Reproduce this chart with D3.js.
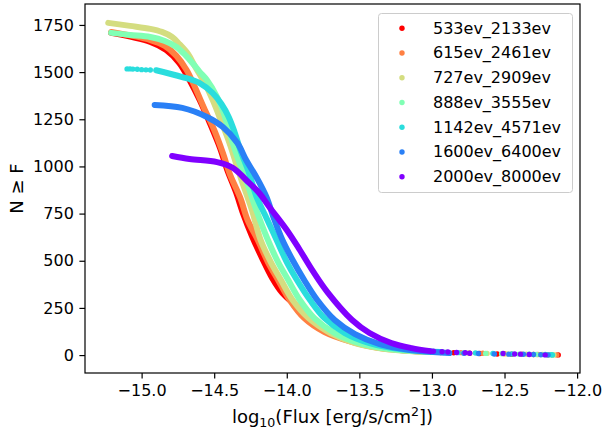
<!DOCTYPE html>
<html>
<head>
<meta charset="utf-8">
<script src="https://cdn.jsdelivr.net/npm/d3@7"></script>
<style>
body { margin: 0; background: #fff; }
svg { font-family: "DejaVu Sans", sans-serif; }
</style>
</head>
<body>
<svg id="chart" width="603" height="431"></svg>
<script>
// energy bands, drawn in this order (later ones on top)
var bands = ['533ev_2133ev', '615ev_2461ev', '727ev_2909ev', '888ev_3555ev',
             '1142ev_4571ev', '1600ev_6400ev', '2000ev_8000ev'];
var colors = ['#ff0000', '#ff8042', '#d4dd80', '#80ffb4', '#2adddd', '#2a80f6', '#8000ff'];

var xTicks = [-15.0, -14.5, -14.0, -13.5, -13.0, -12.5, -12.0];
var yTicks = [0, 250, 500, 750, 1000, 1250, 1500, 1750];

// [log10 flux, N >= F]  -- dense part of each curve
var curve533 = [[-15.21,1708],[-14.94,1660],[-14.83,1617],[-14.74,1548],[-14.67,1458],[-14.60,1352],
  [-14.53,1230],[-14.46,1098],[-14.41,981],[-14.35,864],[-14.30,748],[-14.24,631],[-14.17,514],
  [-14.10,408],[-14.03,329],[-13.94,265],[-13.82,186],[-13.70,122],[-13.57,85],[-13.43,53],
  [-13.22,27],[-13.01,16]];
var curve615 = [[-15.21,1713],[-14.94,1670],[-14.84,1639],[-14.76,1586],[-14.69,1511],[-14.63,1416],
  [-14.57,1310],[-14.50,1193],[-14.44,1071],[-14.39,955],[-14.32,833],[-14.27,716],[-14.20,610],
  [-14.13,493],[-14.06,398],[-13.98,292],[-13.88,196],[-13.74,122],[-13.57,74],[-13.36,37],[-13.08,21]];
var curve727 = [[-15.23,1761],[-15.08,1745],[-14.94,1729],[-14.86,1713],[-14.79,1686],[-14.74,1649],
  [-14.68,1596],[-14.63,1527],[-14.57,1448],[-14.51,1352],[-14.45,1236],[-14.39,1114],[-14.34,992],
  [-14.30,902],[-14.24,769],[-14.18,610],[-14.11,493],[-14.04,398],[-13.96,292],[-13.85,196],
  [-13.70,117],[-13.53,64],[-13.32,32],[-13.01,16]];
var curve888 = [[-15.21,1708],[-15.08,1697],[-14.94,1686],[-14.84,1665],[-14.76,1633],[-14.70,1591],
  [-14.65,1548],[-14.60,1501],[-14.55,1458],[-14.48,1368],[-14.43,1273],[-14.39,1167],[-14.34,1050],
  [-14.28,928],[-14.21,769],[-14.13,610],[-14.06,493],[-13.99,398],[-13.91,292],[-13.81,196],
  [-13.67,117],[-13.50,64],[-13.29,32],[-13.01,16]];
var curve1142 = [[-14.90,1510],[-14.72,1474],[-14.60,1442],[-14.51,1389],[-14.45,1331],[-14.40,1262],
  [-14.36,1183],[-14.32,1087],[-14.26,965],[-14.21,843],[-14.14,727],[-14.07,610],[-14.00,493],
  [-13.93,398],[-13.84,292],[-13.74,196],[-13.60,117],[-13.43,64],[-13.22,32],[-12.94,16]];
var curve1600 = [[-14.91,1326],[-14.72,1310],[-14.55,1262],[-14.44,1209],[-14.34,1124],[-14.28,1034],
  [-14.21,944],[-14.14,838],[-14.09,727],[-14.03,610],[-13.96,504],[-13.88,398],[-13.79,292],
  [-13.67,186],[-13.53,111],[-13.36,58],[-13.15,27],[-12.88,11]];
var curve2000 = [[-14.79,1055],[-14.67,1039],[-14.48,1023],[-14.37,992],[-14.28,928],[-14.19,859],
  [-14.12,785],[-14.00,663],[-13.91,557],[-13.82,445],[-13.72,334],[-13.55,186],[-13.43,117],
  [-13.28,64],[-13.14,37],[-13.01,21]];

// isolated points (bright tail, and the sparse start of 1142ev)
var tail533 = [[-12.94,14],[-12.85,12],[-12.74,10],[-12.67,8],[-12.55,6],[-12.45,4],[-12.30,3],[-12.20,2],[-12.13,1]];
var tail615 = [[-12.95,16],[-12.80,13],[-12.65,10],[-12.50,7],[-12.38,5],[-12.27,3],[-12.17,2],[-12.14,1]];
var tail727 = [[-12.90,14],[-12.75,11],[-12.62,9],[-12.48,6],[-12.35,4],[-12.24,3],[-12.17,2],[-12.16,1]];
var tail888 = [[-12.92,14],[-12.78,12],[-12.63,9],[-12.52,7],[-12.40,5],[-12.28,3],[-12.20,2],[-12.17,1]];
var tail1142 = [[-15.10,1517],[-15.08,1517],[-15.06,1516],[-15.03,1515],[-15.00,1513],[-14.97,1512],
  [-14.94,1511],[-12.82,13],[-12.70,11],[-12.58,8],[-12.45,6],[-12.33,4],[-12.22,3],[-12.18,2],[-12.17,1]];
var tail1600 = [[-12.78,10],[-12.68,8],[-12.57,6],[-12.47,5],[-12.37,4],[-12.30,3],[-12.25,2],[-12.20,1]];
var tail2000 = [[-12.99,20],[-12.93,18],[-12.89,16],[-12.83,14],[-12.77,12],[-12.74,10],[-12.51,8],
  [-12.43,6],[-12.39,5],[-12.33,3],[-12.22,1]];

var curves = [curve533, curve615, curve727, curve888, curve1142, curve1600, curve2000];
var tails = [tail533, tail615, tail727, tail888, tail1142, tail1600, tail2000];

var width = 603;
var height = 431;
var plotLeft = 85, plotRight = 580, plotTop = 4, plotBottom = 373;

var xScale = d3.scaleLinear().domain([-15.39, -11.98]).range([plotLeft, plotRight]);
var yScale = d3.scaleLinear().domain([-95, 1861]).range([plotBottom, plotTop]);

var svg = d3.select('#chart');

var line = d3.line()
  .x(d => xScale(d[0]))
  .y(d => yScale(d[1]))
  .curve(d3.curveCatmullRom.alpha(0.5));

var plot = svg.append('g');

curves.forEach(function(c, i) {
  plot.append('path')
    .attr('d', line(c))
    .attr('fill', 'none')
    .attr('stroke', colors[i])
    .attr('stroke-width', 6)
    .attr('stroke-linecap', 'round')
    .attr('stroke-linejoin', 'round');
  plot.selectAll('circle.t' + i)
    .data(tails[i])
    .enter()
    .append('circle')
      .attr('class', 't' + i)
      .attr('cx', d => xScale(d[0]))
      .attr('cy', d => yScale(d[1]))
      .attr('r', 2.7)
      .attr('fill', colors[i]);
});

var xAxis = d3.axisBottom(xScale)
  .tickValues(xTicks)
  .tickFormat(d3.format('.1f'))
  .tickSize(5.6)
  .tickPadding(5.6);

var yAxis = d3.axisLeft(yScale)
  .tickValues(yTicks)
  .tickFormat(d3.format('d'))
  .tickSize(5.6)
  .tickPadding(5.6);

var gx = svg.append('g')
  .attr('transform', 'translate(0,' + plotBottom + ')')
  .call(xAxis);
var gy = svg.append('g')
  .attr('transform', 'translate(' + plotLeft + ',0)')
  .call(yAxis);

[gx, gy].forEach(function(g) {
  g.select('.domain').remove();
  g.selectAll('line').attr('stroke', '#000').attr('stroke-width', 1.2);
  g.selectAll('text')
    .attr('fill', '#000')
    .style('font-size', '16px')
    .style('font-family', '"DejaVu Sans", sans-serif');
});

// frame
svg.append('rect')
  .attr('x', plotLeft)
  .attr('y', plotTop)
  .attr('width', plotRight - plotLeft)
  .attr('height', plotBottom - plotTop)
  .attr('fill', 'none')
  .attr('stroke', '#000')
  .attr('stroke-width', 1.2);

// axis labels
var xl = svg.append('text')
  .attr('x', (plotLeft + plotRight) / 2)
  .attr('y', 423)
  .style('text-anchor', 'middle')
  .style('font-size', '18px');
xl.append('tspan').text('log');
xl.append('tspan').attr('dy', 4).style('font-size', '12.6px').text('10');
xl.append('tspan').attr('dy', -4).text('(Flux [erg/s/cm');
xl.append('tspan').attr('dy', -7).style('font-size', '12.6px').text('2');
xl.append('tspan').attr('dy', 7).text('])');

svg.append('text')
  .attr('transform', 'translate(23,' + (plotTop + plotBottom) / 2 + ') rotate(-90)')
  .style('text-anchor', 'middle')
  .style('font-size', '18px')
  .text('N \u2265 F');

// legend
var legend = svg.append('g');
legend.append('rect')
  .attr('x', 378.5)
  .attr('y', 13.5)
  .attr('width', 194)
  .attr('height', 179)
  .attr('rx', 3)
  .attr('fill', '#fff')
  .attr('fill-opacity', 0.8)
  .attr('stroke', '#cccccc')
  .attr('stroke-width', 1);

var items = legend.selectAll('g.item')
  .data(bands)
  .enter()
  .append('g')
    .attr('class', 'item')
    .attr('transform', (d, i) => 'translate(0,' + (28.3 + i * 24.75) + ')');

items.append('circle')
  .attr('cx', 402)
  .attr('cy', 0)
  .attr('r', 2.7)
  .attr('fill', (d, i) => colors[i]);

items.append('text')
  .attr('x', 433)
  .attr('y', 5.3)
  .style('font-size', '16px')
  .text(d => d);
</script>
</body>
</html>
